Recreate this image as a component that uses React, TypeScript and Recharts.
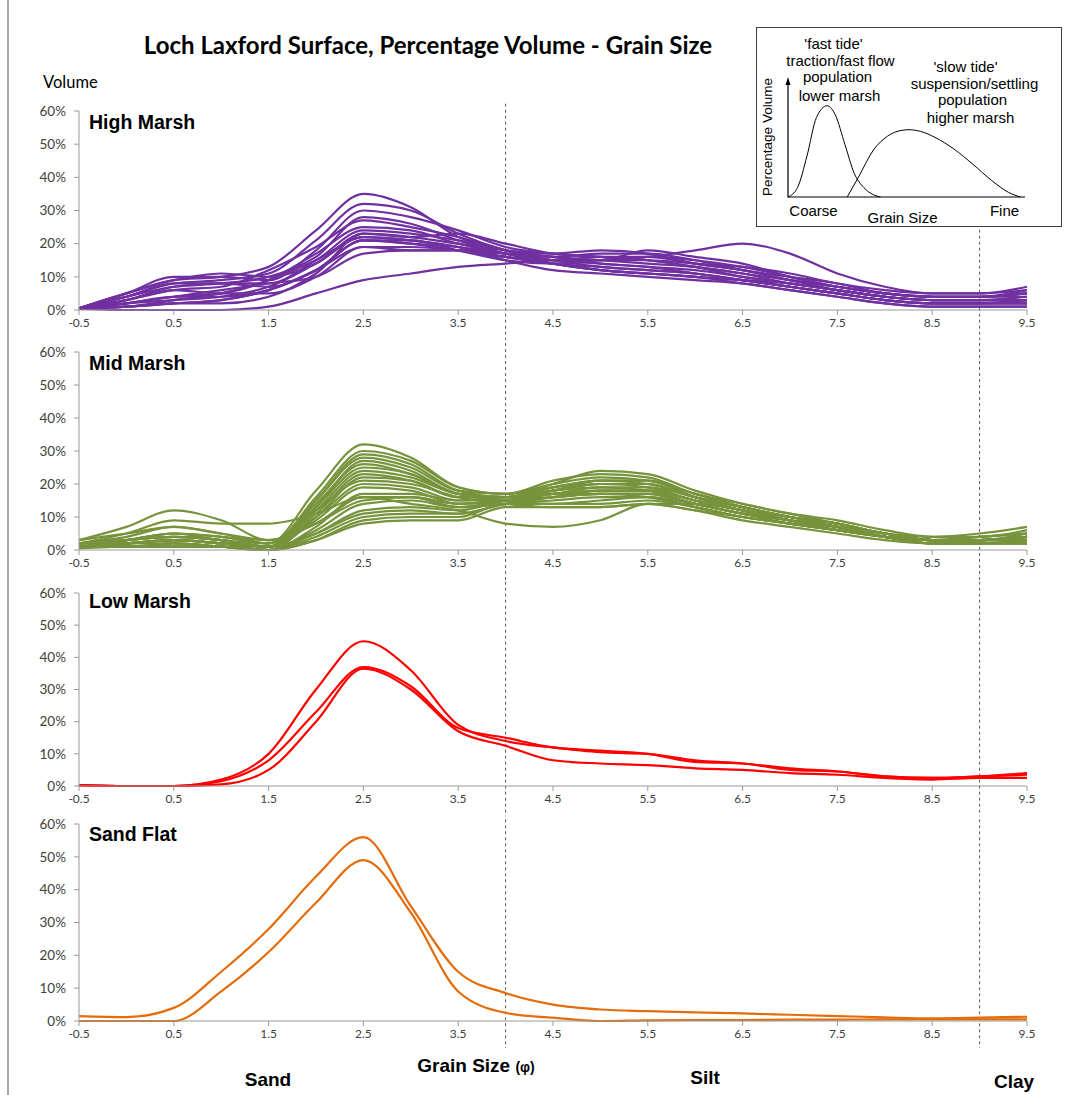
import React from 'react';
import { LineChart, Line, XAxis, YAxis, ReferenceLine } from 'recharts';

// grain size classes (phi)
const grainSize = [-0.5, 0, 0.5, 1, 1.5, 2, 2.5, 3, 3.5, 4, 4.5, 5, 5.5, 6, 6.5, 7, 7.5, 8, 8.5, 9, 9.5];
const xTicks = [-0.5, 0.5, 1.5, 2.5, 3.5, 4.5, 5.5, 6.5, 7.5, 8.5, 9.5];
const yTicks = [0, 10, 20, 30, 40, 50, 60];
// sand/silt and silt/clay boundaries
const boundaries = [4, 9];

const highMarsh = [
    [0.5, 5, 9, 10, 13, 24, 35, 31, 22, 18, 16, 15, 14, 13, 11, 9, 7, 5, 4, 4, 5],
    [0.5, 4, 8, 9, 11, 21, 32, 30, 23, 18, 15, 14, 13, 12, 10, 8, 6, 4, 3, 3, 4],
    [0.5, 5, 10, 10, 9, 18, 30, 28, 24, 19, 17, 16, 15, 13, 10, 8, 6, 4, 3, 3, 3],
    [0.5, 3, 6, 7, 12, 19, 27, 25, 22, 18, 16, 15, 16, 14, 12, 9, 7, 5, 4, 4, 5],
    [0.5, 2, 4, 5, 9, 17, 25, 24, 20, 17, 16, 17, 17, 15, 12, 10, 8, 5, 4, 4, 4],
    [0.5, 3, 7, 8, 8, 15, 24, 23, 21, 18, 15, 15, 18, 16, 14, 10, 7, 5, 4, 4, 6],
    [0.5, 5, 9, 11, 10, 14, 23, 22, 23, 20, 17, 16, 15, 13, 11, 8, 6, 4, 3, 3, 3],
    [0.5, 2, 3, 4, 7, 14, 22, 21, 19, 16, 14, 13, 12, 11, 9, 7, 5, 3, 2, 2, 2],
    [0.5, 4, 8, 8, 7, 12, 21, 20, 18, 16, 15, 16, 16, 15, 13, 10, 7, 5, 4, 4, 5],
    [0.5, 1, 2, 3, 6, 12, 21, 20, 19, 17, 14, 12, 11, 10, 9, 7, 5, 3, 2, 2, 2],
    [0.5, 3, 6, 5, 5, 10, 19, 19, 18, 17, 15, 13, 12, 11, 9, 7, 5, 3, 2, 2, 3],
    [0.5, 2, 4, 4, 6, 12, 19, 18, 18, 17, 16, 14, 13, 11, 9, 7, 5, 3, 2, 2, 2],
    [0.5, 1, 2, 3, 6, 12, 21, 21, 18, 15, 14, 15, 16, 18, 20, 17, 11, 7, 5, 5, 7],
    [0.5, 1, 2, 2, 4, 11, 23, 22, 20, 18, 17, 18, 17, 14, 12, 9, 6, 4, 3, 3, 3],
    [0.5, 0, 0, 0, 1, 5, 9, 11, 13, 14, 15, 15, 15, 14, 13, 11, 8, 6, 5, 5, 6],
    [0.5, 2, 4, 6, 8, 10, 17, 18, 18, 16, 14, 12, 11, 10, 8, 6, 4, 2, 1, 1, 1],
    [0.5, 4, 7, 8, 10, 16, 28, 26, 21, 17, 14, 12, 11, 10, 9, 8, 6, 4, 3, 3, 3],
    [0.5, 1, 3, 5, 9, 15, 22, 21, 19, 15, 12, 11, 10, 9, 8, 6, 4, 2, 1, 1, 1],
];

const midMarsh = [
    [3, 5, 7, 5, 2, 18, 32, 28, 19, 17, 21, 23, 22, 17, 14, 11, 9, 6, 4, 5, 7],
    [2, 3, 4, 3, 1, 16, 30, 27, 19, 17, 20, 22, 21, 17, 13, 10, 8, 5, 4, 4, 6],
    [1, 2, 3, 2, 1, 15, 29, 26, 18, 16, 19, 21, 21, 16, 12, 10, 8, 5, 3, 4, 5],
    [2, 3, 5, 4, 2, 15, 28, 25, 18, 17, 19, 20, 19, 15, 12, 9, 7, 4, 3, 3, 4],
    [1, 1, 2, 1, 0, 13, 27, 24, 17, 16, 18, 20, 20, 16, 13, 10, 8, 5, 3, 3, 4],
    [2, 3, 4, 3, 1, 13, 25, 23, 17, 16, 20, 24, 23, 18, 14, 11, 8, 5, 3, 4, 5],
    [1, 2, 3, 2, 1, 12, 24, 22, 17, 16, 18, 19, 18, 14, 11, 9, 7, 4, 3, 3, 3],
    [2, 2, 3, 2, 1, 11, 23, 21, 16, 16, 19, 21, 20, 16, 13, 10, 7, 4, 3, 3, 4],
    [1, 1, 1, 1, 0, 10, 22, 21, 16, 16, 17, 18, 18, 15, 12, 9, 7, 4, 2, 2, 3],
    [2, 3, 5, 3, 2, 10, 20, 19, 15, 15, 17, 19, 19, 16, 13, 10, 8, 5, 3, 3, 4],
    [1, 2, 3, 2, 1, 9, 19, 18, 14, 15, 16, 17, 17, 14, 11, 8, 6, 4, 2, 2, 2],
    [0.5, 1, 1, 1, 0, 7, 17, 17, 15, 16, 18, 20, 20, 16, 12, 9, 7, 4, 3, 3, 5],
    [2, 4, 7, 5, 3, 8, 16, 16, 14, 15, 18, 21, 21, 17, 13, 10, 7, 5, 3, 3, 4],
    [1, 3, 5, 4, 3, 8, 16, 16, 13, 14, 16, 18, 18, 15, 12, 9, 7, 4, 3, 3, 3],
    [3, 7, 12, 9, 3, 8, 15, 16, 14, 15, 17, 17, 17, 14, 11, 9, 6, 4, 3, 3, 4],
    [2, 5, 9, 8, 8, 11, 16, 14, 12, 8, 7, 9, 14, 14, 12, 9, 7, 5, 3, 3, 4],
    [1, 2, 3, 2, 0, 6, 14, 15, 13, 15, 17, 18, 18, 15, 12, 9, 7, 4, 3, 3, 4],
    [1, 1, 2, 1, 0, 5, 12, 13, 12, 15, 16, 17, 17, 14, 11, 9, 6, 4, 3, 3, 3],
    [2, 3, 4, 3, 1, 5, 11, 12, 11, 14, 16, 17, 16, 13, 10, 8, 6, 4, 2, 2, 2],
    [1, 1, 1, 1, 0, 4, 10, 11, 11, 14, 15, 16, 16, 13, 10, 8, 6, 4, 2, 2, 3],
    [1, 2, 2, 1, 0, 3, 9, 10, 10, 14, 14, 14, 15, 13, 10, 8, 6, 4, 2, 2, 2],
    [1, 1, 1, 1, 0, 3, 8, 9, 9, 13, 13, 13, 14, 12, 9, 7, 5, 3, 2, 2, 2],
    [2, 3, 4, 3, 1, 12, 21, 20, 16, 14, 13, 13, 14, 12, 10, 8, 6, 4, 3, 3, 3],
    [1, 2, 3, 2, 1, 14, 26, 23, 17, 15, 14, 15, 16, 14, 11, 9, 7, 5, 3, 3, 4],
];

const lowMarsh = [
    [0.3, 0, 0, 2, 10, 30, 45, 36, 19, 14, 12, 10.5, 10, 8, 7, 5.5, 4.5, 3, 2.5, 3, 3.5],
    [0.3, 0, 0, 1.5, 8, 23, 37, 31, 18, 15, 12, 11, 10, 7.5, 7, 5, 4.5, 3, 2.5, 3, 4],
    [0.3, 0, 0, 0.5, 5, 20, 36.5, 30, 17, 12.5, 8, 7, 6.5, 5.5, 5, 4, 3.5, 2.5, 2, 2.5, 2.5],
];

const sandFlat = [
    [1.5, 1.2, 4, 15, 28, 44, 56, 35, 15, 8.5, 5, 3.5, 3, 2.6, 2.3, 1.9, 1.5, 1.1, 0.8, 1, 1.3],
    [0, 0, 0, 9, 21, 36, 49, 33, 9, 2.5, 1, 0, 0.2, 0.3, 0.3, 0.4, 0.4, 0.5, 0.5, 0.5, 0.5],
];

// inset sketch (relative grain size / volume)
const fastTide = [
    { x: 0, y: 0 }, { x: 4, y: 8 }, { x: 8, y: 35 }, { x: 12, y: 68 }, { x: 16.5, y: 78 },
    { x: 20, y: 70 }, { x: 24, y: 45 }, { x: 28, y: 20 }, { x: 32, y: 8 }, { x: 36, y: 2 }, { x: 39, y: 0 },
];
const slowTide = [
    { x: 25, y: 0 }, { x: 30, y: 18 }, { x: 36, y: 40 }, { x: 42, y: 52 }, { x: 46, y: 56 },
    { x: 51, y: 57.5 }, { x: 56, y: 56 }, { x: 62, y: 51 }, { x: 70, y: 41 }, { x: 78, y: 28 },
    { x: 86, y: 14 }, { x: 93, y: 4 }, { x: 98, y: 0 },
];

const axisColor = '#9a9a9a';
const tickColor = '#404040';
const tickFont = 'Lato, Calibri, sans-serif';
const arial = "'Liberation Sans', Arial, sans-serif";

function Text({ x, y, children, style }: { x: number; y: number; children: React.ReactNode; style?: React.CSSProperties }) {
    return (
        <div style={{ position: 'absolute', left: x, top: y, transform: 'translate(-50%, -50%)', whiteSpace: 'nowrap', lineHeight: 1, ...style }}>
            {children}
        </div>
    );
}

interface PanelProps {
    series: number[][];
    color: string;
    top: number;      // svg top (joins the previous panel so the boundary lines run on)
    plotTop: number;
    plotBottom: number;
    axisH?: number;
}

function Panel({ series, color, top, plotTop, plotBottom, axisH = 30 }: PanelProps) {
    const rows = grainSize.map((g, i) => {
        const r: Record<string, number> = { g };
        series.forEach((s, k) => { r['s' + k] = s[i]; });
        return r;
    });
    return (
        <div style={{ position: 'absolute', left: 0, top }}>
            <LineChart width={1072} height={plotBottom + axisH - top} data={rows} margin={{ top: plotTop - top, right: 45, left: 0, bottom: 0 }}>
                <XAxis
                    dataKey="g"
                    type="number"
                    domain={[-0.5, 9.5]}
                    ticks={xTicks}
                    interval={0}
                    height={axisH}
                    tickSize={5}
                    tickMargin={3}
                    tick={{ fontSize: 12, fill: tickColor, fontFamily: tickFont }}
                    axisLine={{ stroke: axisColor }}
                    tickLine={{ stroke: axisColor }}
                />
                <YAxis
                    domain={[0, 60]}
                    ticks={yTicks}
                    width={79}
                    tickSize={5}
                    tickMargin={8}
                    tickFormatter={(v: number) => `${v}%`}
                    tick={{ fontSize: 13.5, fill: tickColor, fontFamily: tickFont }}
                    axisLine={{ stroke: axisColor }}
                    tickLine={{ stroke: axisColor }}
                />
                {boundaries.map((b) => (
                    <ReferenceLine
                        key={b}
                        segment={[{ x: b, y: -40 }, { x: b, y: 90 }]}
                        ifOverflow="visible"
                        stroke="#595959"
                        strokeDasharray="3 3"
                    />
                ))}
                {series.map((_, k) => (
                    <Line
                        key={k}
                        dataKey={'s' + k}
                        type="monotone"
                        stroke={color}
                        strokeWidth={2.2}
                        dot={false}
                        activeDot={false}
                        isAnimationActive={false}
                    />
                ))}
            </LineChart>
        </div>
    );
}

function Inset() {
    const t: React.CSSProperties = { fontFamily: arial, fontSize: 15, color: '#000' };
    return (
        <div style={{ position: 'absolute', left: 756, top: 27, width: 306, height: 200, boxSizing: 'border-box', border: '1.5px solid #404040', background: '#fff' }}>
            <div style={{ position: 'absolute', left: -1.5, top: -1.5 }}>
                <LineChart width={306} height={200} margin={{ top: 53, right: 37, left: 32, bottom: 30 }}>
                    <XAxis type="number" dataKey="x" domain={[0, 100]} hide />
                    <YAxis type="number" domain={[0, 100]} hide />
                    <Line data={fastTide} dataKey="y" type="monotone" stroke="#000" strokeWidth={1} dot={false} isAnimationActive={false} />
                    <Line data={slowTide} dataKey="y" type="monotone" stroke="#000" strokeWidth={1} dot={false} isAnimationActive={false} />
                </LineChart>
            </div>
            <svg width={306} height={200} style={{ position: 'absolute', left: -1.5, top: -1.5 }}>
                <polyline points="32,56 32,170 269,170" fill="none" stroke="#000" strokeWidth={1.2} />
                <polygon points="32,50 29.5,58 34.5,58" fill="#000" />
            </svg>
            <div style={{ position: 'absolute', left: -757.5, top: -28.5 }}>
                <Text x={834} y={43} style={t}>'fast tide'</Text>
                <Text x={841} y={60} style={t}>traction/fast flow</Text>
                <Text x={838} y={76} style={t}>population</Text>
                <Text x={840} y={95} style={t}>lower marsh</Text>
                <Text x={966} y={66} style={t}>'slow tide'</Text>
                <Text x={975} y={83} style={t}>suspension/settling</Text>
                <Text x={973} y={99} style={t}>population</Text>
                <Text x={971} y={117} style={t}>higher marsh</Text>
                <Text x={814} y={210} style={t}>Coarse</Text>
                <Text x={903} y={217} style={t}>Grain Size</Text>
                <Text x={1005} y={210} style={t}>Fine</Text>
                <Text x={768} y={137} style={{ ...t, fontSize: 13.5, transform: 'translate(-50%, -50%) rotate(-90deg)' }}>Percentage Volume</Text>
            </div>
        </div>
    );
}

export default function App() {
    const panelLabel: React.CSSProperties = { position: 'absolute', left: 89, fontFamily: arial, fontWeight: 700, fontSize: 19.5, color: '#000', lineHeight: 1 };
    const bottomLabel: React.CSSProperties = { fontFamily: arial, fontWeight: 700, fontSize: 19, color: '#000' };
    return (
        <div style={{ position: 'absolute', left: 0, top: 0, width: 1072, height: 1095, background: '#fff', overflow: 'hidden' }}>
            <div style={{ position: 'absolute', left: 7, top: 0, width: 2, height: 1095, background: '#a6a6a6' }} />

            <Panel series={highMarsh} color="#7030a0" top={103} plotTop={111} plotBottom={310} />
            <Panel series={midMarsh} color="#77933c" top={340} plotTop={352} plotBottom={550} />
            <Panel series={lowMarsh} color="#ff0000" top={580} plotTop={593} plotBottom={786} />
            <Panel series={sandFlat} color="#e46c0a" top={816} plotTop={824} plotBottom={1021} axisH={27} />

            <Text x={428} y={45} style={{ fontFamily: tickFont, fontWeight: 700, fontSize: 24, color: '#000' }}>
                Loch Laxford Surface, Percentage Volume - Grain Size
            </Text>
            <div style={{ position: 'absolute', left: 43, top: 74, fontFamily: tickFont, fontSize: 16.5, color: '#000', lineHeight: 1 }}>Volume</div>

            <div style={{ ...panelLabel, top: 113 }}>High Marsh</div>
            <div style={{ ...panelLabel, top: 354 }}>Mid Marsh</div>
            <div style={{ ...panelLabel, top: 592 }}>Low Marsh</div>
            <div style={{ ...panelLabel, top: 825 }}>Sand Flat</div>

            <Text x={476} y={1065} style={bottomLabel}>
                Grain Size <span style={{ fontSize: 14 }}>(φ)</span>
            </Text>
            <Text x={268} y={1079} style={bottomLabel}>Sand</Text>
            <Text x={705} y={1077} style={bottomLabel}>Silt</Text>
            <Text x={1014} y={1081} style={bottomLabel}>Clay</Text>

            <Inset />
        </div>
    );
}
